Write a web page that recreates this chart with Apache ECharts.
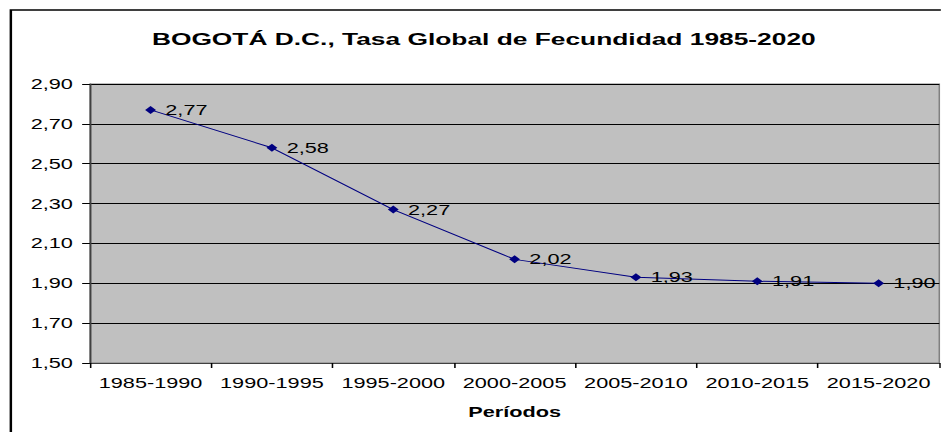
<!DOCTYPE html>
<html>
<head>
<meta charset="utf-8">
<script src="https://cdn.jsdelivr.net/npm/echarts@6/dist/echarts.min.js"></script>
<style>
  html, body { margin: 0; padding: 0; background: #fff; overflow: hidden; }
  /* the source image is a horizontally stretched chart, so draw narrow and stretch */
  #chart { width: 607px; height: 432px; transform: scaleX(1.55); transform-origin: 0 0; }
</style>
</head>
<body>
<div id="chart"></div>
<script>
const periods = ['1985-1990', '1990-1995', '1995-2000', '2000-2005', '2005-2010', '2010-2015', '2015-2020']
const tgf = [2.77, 2.58, 2.27, 2.02, 1.93, 1.91, 1.90]
const yMin = 1.5
const yMax = 2.9
const yStep = 0.2

const chart = echarts.init(document.getElementById('chart'), null, { renderer: 'svg' })
const fmt = (v) => Number(v).toFixed(2).replace('.', ',')

chart.setOption({
  animation: false,
  textStyle: { fontFamily: '"Liberation Sans", Arial, sans-serif' },
  graphic: [{
    type: 'rect',
    shape: { x: 7, y: 10, width: 640, height: 440 },
    style: { fill: 'none', stroke: '#000', lineWidth: 1.6 },
    silent: true
  }],
  title: {
    text: 'BOGOTÁ D.C., Tasa Global de Fecundidad 1985-2020',
    left: 93, top: 26,
    textStyle: { fontSize: 17, fontWeight: 'bold', color: '#000' }
  },
  grid: {
    left: 58, right: 1, top: 84, bottom: 69,
    show: true, backgroundColor: '#c0c0c0', borderColor: '#808080', borderWidth: 1
  },
  xAxis: {
    type: 'category',
    data: periods,
    name: 'Períodos',
    nameLocation: 'middle',
    nameGap: 42,
    nameTextStyle: { fontSize: 14, fontWeight: 'bold', color: '#000' },
    axisLine: { lineStyle: { color: '#404040', width: 1 } },
    axisTick: { show: true, length: 5, lineStyle: { color: '#000' } },
    axisLabel: { fontSize: 14, color: '#000', margin: 13, interval: 0 }
  },
  yAxis: {
    type: 'value',
    min: yMin, max: yMax, interval: yStep,
    axisLine: { show: true, lineStyle: { color: '#404040' } },
    axisTick: { show: true, length: 5, lineStyle: { color: '#000' } },
    axisLabel: { fontSize: 14, color: '#000', margin: 11, formatter: fmt },
    splitLine: { lineStyle: { color: '#000', width: 1 } }
  },
  series: [{
    type: 'line',
    data: tgf,
    symbol: 'diamond',
    symbolSize: [7, 8],
    itemStyle: { color: '#000080' },
    lineStyle: { color: '#000080', width: 1 },
    label: {
      show: true, position: 'right', distance: 6,
      fontSize: 14, color: '#000', formatter: (p) => fmt(p.value)
    }
  }]
})
</script>
</body>
</html>
